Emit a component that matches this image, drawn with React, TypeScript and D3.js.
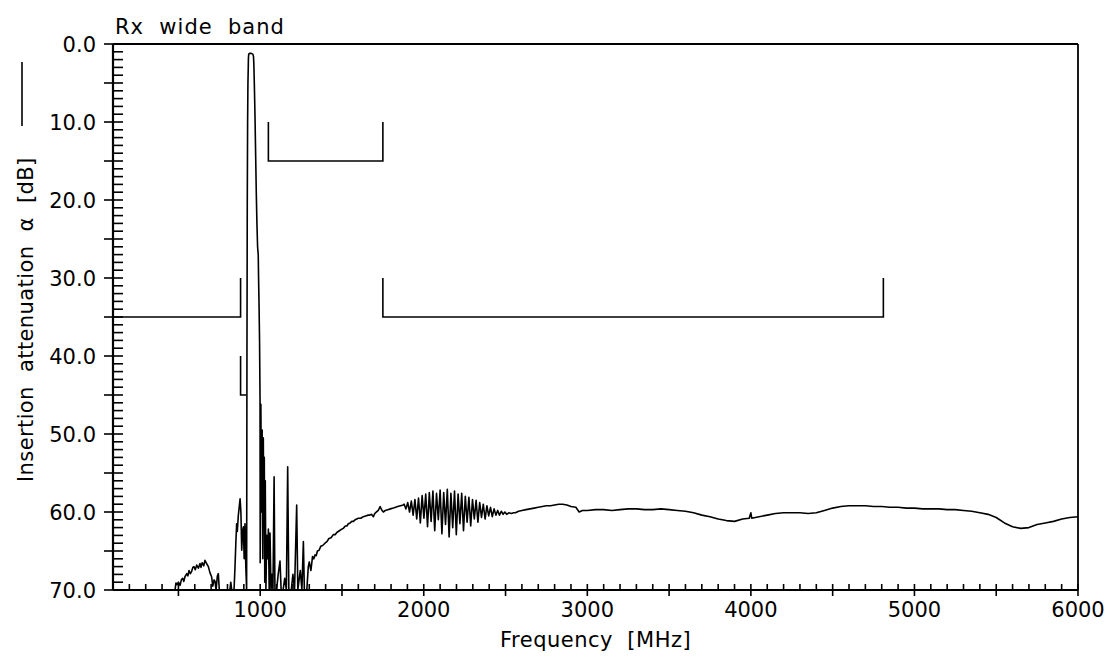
import React from 'react';
import * as d3 from 'd3';

const W = 1112;
const H = 657;
const PLOT = { left: 113, top: 44, right: 1078, bottom: 590 };

const xDomain: [number, number] = [100, 6000];
const yDomain: [number, number] = [0, 70];
const xTickLabels = [1000, 2000, 3000, 4000, 5000, 6000];
const yTickLabels = [0, 10, 20, 30, 40, 50, 60, 70];

const titleText = 'Rx  wide  band';
const xTitle = 'Frequency  [MHz]';
const yTitle = 'Insertion  attenuation  \u03B1  [dB]';

// Tolerance mask segments [MHz, dB]
const maskLow: [number, number][] = [[100, 35], [880, 35], [880, 30]];
const maskTx: [number, number][] = [[880, 40], [880, 45], [915, 45]];
const maskNear: [number, number][] = [[1050, 10], [1050, 15], [1750, 15], [1750, 10]];
const maskFar: [number, number][] = [[1750, 30], [1750, 35], [4810, 35], [4810, 30]];

// Measured curve [MHz, dB]
const lowBand: [number, number][] = [
  [479, 70], [485, 69.1], [492, 69.3], [500, 69.0], [510, 69.4], [518, 68.7], [526, 68.5],
  [533, 68.9], [540, 68.3], [551, 67.9], [558, 68.2], [565, 67.5], [573, 67.9], [581, 67.6],
  [588, 67.1], [595, 67.0], [603, 67.4], [612, 66.8], [622, 67.2], [632, 66.6], [638, 67.1],
  [645, 66.5], [655, 66.9], [662, 66.2], [672, 66.6], [683, 67.0], [693, 67.8], [703, 68.3],
  [710, 69.5], [718, 68.7], [724, 68.9], [730, 70], [738, 68.2], [744, 67.9], [750, 70],
  [815, 70], [820, 69], [826, 70], [840, 70], [846, 67], [851, 64], [856, 61.5], [860, 62.5],
  [866, 60.5], [871, 59.5], [877, 58.3], [882, 60], [887, 64.9], [892, 62.5], [897, 61.9],
  [902, 66], [907, 61.5], [912, 67], [917, 70],
];

const passBand: [number, number][] = [
  [919, 40], [921, 20], [923, 10], [925, 5], [927, 3], [928, 1.8], [930, 1.3], [935, 1.2],
  [945, 1.2], [955, 1.3], [959, 1.6], [961, 2.5], [964, 5], [968, 9], [972, 14], [976, 19],
  [980, 23], [984, 26], [988, 27], [990, 30], [993, 33.5], [996, 38], [999, 45.6], [1000, 66.5],
];

const spurious: [number, number][] = [
  [1004, 46.2], [1008, 60], [1012, 49.5], [1016, 66], [1019, 50.5], [1022, 62], [1025, 53],
  [1028, 69], [1031, 56], [1035, 70], [1040, 63], [1045, 66], [1050, 62.2], [1055, 70],
  [1060, 62.7], [1066, 70], [1072, 68], [1078, 70], [1085, 55.5], [1090, 70], [1100, 70],
  [1110, 68], [1121, 66.3], [1128, 70], [1140, 70], [1150, 68.5], [1160, 70], [1168, 54.2],
  [1175, 70], [1190, 70], [1200, 68], [1210, 70], [1223, 59.1], [1230, 70], [1245, 67.5],
  [1255, 70], [1264, 63.8], [1270, 70], [1285, 70], [1294, 67],
];

const rising: [number, number][] = [
  [1300, 66.4], [1310, 67.5], [1320, 65.7], [1328, 66.0], [1335, 65.5], [1342, 65.6],
  [1350, 65.0], [1360, 64.9], [1370, 64.4], [1382, 64.3], [1396, 64.0], [1408, 63.8],
  [1420, 63.4], [1433, 63.3], [1447, 62.9], [1458, 62.9], [1470, 62.6], [1484, 62.4],
  [1498, 62.2], [1508, 62.1], [1520, 61.8], [1530, 61.8], [1539, 61.5], [1550, 61.4],
  [1560, 61.2], [1570, 61.2], [1580, 61.0], [1590, 60.9], [1600, 60.8], [1615, 60.8],
  [1630, 60.6], [1645, 60.5], [1660, 60.4], [1670, 60.4], [1680, 60.3], [1692, 60.6],
  [1700, 60.2], [1710, 60.0], [1722, 59.8], [1733, 59.3], [1740, 59.6], [1745, 59.8],
  [1753, 60.0], [1765, 59.8], [1780, 59.7], [1796, 59.6], [1814, 59.5], [1828, 59.4],
  [1840, 59.3], [1858, 59.2], [1875, 59.1],
];

const ripple: [number, number][] = [
  [1880, 59.0], [1891, 59.6], [1902, 58.8], [1913, 60.0], [1924, 58.6], [1935, 60.4],
  [1946, 58.4], [1957, 60.9], [1968, 58.2], [1979, 61.4], [1990, 57.9], [2001, 60.8],
  [2012, 57.7], [2023, 61.9], [2034, 57.5], [2045, 61.2], [2056, 57.3], [2067, 62.4],
  [2078, 57.6], [2089, 61.0], [2100, 57.2], [2111, 62.8], [2122, 57.5], [2133, 61.6],
  [2144, 57.1], [2155, 63.2], [2166, 57.6], [2177, 62.0], [2188, 57.3], [2199, 62.9],
  [2210, 57.7], [2221, 61.5], [2232, 57.6], [2243, 62.4], [2254, 58.0], [2265, 61.3],
  [2276, 58.1], [2287, 61.8], [2298, 58.4], [2309, 60.9], [2320, 58.5], [2331, 61.3],
  [2342, 58.8], [2353, 60.7], [2364, 59.0], [2375, 60.9], [2386, 59.2], [2397, 60.5],
  [2408, 59.4], [2419, 60.6], [2430, 59.6], [2441, 60.4], [2452, 59.8], [2463, 60.4],
  [2474, 59.9], [2485, 60.3], [2496, 60.0], [2507, 60.3], [2520, 60.1], [2535, 60.2],
  [2550, 60.1],
];

const upperBand: [number, number][] = [
  [2560, 60.1], [2580, 59.9], [2600, 59.8], [2625, 59.7], [2650, 59.6], [2675, 59.5],
  [2700, 59.4], [2725, 59.3], [2750, 59.2], [2775, 59.2], [2800, 59.1], [2825, 59.0],
  [2850, 59.0], [2875, 59.1], [2900, 59.3], [2930, 59.4], [2950, 60.0], [2970, 59.8],
  [3000, 59.8], [3050, 59.7], [3100, 59.7], [3150, 59.8], [3200, 59.7], [3250, 59.6],
  [3300, 59.6], [3350, 59.7], [3400, 59.7], [3450, 59.6], [3500, 59.7], [3550, 59.8],
  [3600, 59.9], [3650, 60.1], [3700, 60.4], [3750, 60.6], [3800, 60.9], [3850, 61.1],
  [3900, 61.2], [3950, 60.9], [3990, 60.8], [4000, 60.1], [4005, 60.8], [4050, 60.6],
  [4100, 60.4], [4150, 60.2], [4200, 60.1], [4250, 60.1], [4300, 60.1], [4350, 60.2],
  [4400, 60.1], [4450, 59.8], [4500, 59.5], [4550, 59.3], [4600, 59.2], [4650, 59.2],
  [4700, 59.2], [4750, 59.3], [4800, 59.3], [4850, 59.4], [4900, 59.4], [4950, 59.5],
  [5000, 59.5], [5050, 59.6], [5100, 59.6], [5150, 59.6], [5200, 59.7], [5250, 59.7],
  [5300, 59.8], [5350, 59.9], [5400, 60.1], [5450, 60.3], [5500, 60.7], [5550, 61.4],
  [5600, 61.9], [5650, 62.1], [5700, 62.0], [5750, 61.6], [5800, 61.4], [5850, 61.2],
  [5900, 60.9], [5950, 60.7], [6000, 60.6],
];

const FONT = '"DejaVu Sans", Verdana, sans-serif';

export default function App() {
  const x = d3.scaleLinear().domain(xDomain).range([PLOT.left, PLOT.right]);
  const y = d3.scaleLinear().domain(yDomain).range([PLOT.top, PLOT.bottom]);
  const line = d3.line<[number, number]>().x(d => x(d[0])).y(d => y(d[1]));

  const curve = [...lowBand, ...passBand, ...spurious, ...rising, ...ripple, ...upperBand];
  const masks = [maskLow, maskTx, maskNear, maskFar];

  const xMinor = d3.range(100, 6001, 100);
  const yMinor = d3.range(0, 71, 1);

  return (
    <svg width={W} height={H} style={{ position: 'absolute', left: 0, top: 0, display: 'block' }}
      xmlns="http://www.w3.org/2000/svg">
      <rect x={0} y={0} width={W} height={H} fill="#fff" />
      <defs>
        <clipPath id="plotClip">
          <rect x={PLOT.left} y={PLOT.top} width={PLOT.right - PLOT.left} height={PLOT.bottom - PLOT.top + 1} />
        </clipPath>
      </defs>

      {/* title */}
      <text x={115} y={34} fontFamily={FONT} fontSize={21} letterSpacing={1} fill="#000"
        style={{ whiteSpace: 'pre' }}>{titleText}</text>

      {/* frame */}
      <line x1={PLOT.left} y1={PLOT.top} x2={PLOT.right} y2={PLOT.top} stroke="#000" strokeWidth={1.8} />
      <line x1={PLOT.right} y1={PLOT.top} x2={PLOT.right} y2={PLOT.bottom} stroke="#000" strokeWidth={1.8} />
      <line x1={PLOT.left} y1={PLOT.top} x2={PLOT.left} y2={PLOT.bottom} stroke="#000" strokeWidth={2.2} />
      <line x1={PLOT.left} y1={PLOT.bottom} x2={PLOT.right} y2={PLOT.bottom} stroke="#000" strokeWidth={2.2} />

      {/* y ticks */}
      {yMinor.map(v => {
        const major = v % 5 === 0;
        return (
          <line key={'yt' + v} x1={major ? PLOT.left - 9 : PLOT.left} x2={PLOT.left + 10}
            y1={y(v)} y2={y(v)} stroke="#000" strokeWidth={1.6} />
        );
      })}
      {yTickLabels.map(v => (
        <text key={'yl' + v} x={96} y={y(v) + 7.5} textAnchor="end" fontFamily={FONT} fontSize={21} fill="#000">
          {v.toFixed(1)}
        </text>
      ))}

      {/* x ticks */}
      {xMinor.map(v => {
        const major = v % 500 === 0;
        return (
          <line key={'xt' + v} x1={x(v)} x2={x(v)} y1={PLOT.bottom - 6} y2={major ? PLOT.bottom + 6 : PLOT.bottom}
            stroke="#000" strokeWidth={1.6} />
        );
      })}
      {xTickLabels.map(v => (
        <text key={'xl' + v} x={x(v)} y={617} textAnchor="middle" fontFamily={FONT} fontSize={21} fill="#000">
          {String(v)}
        </text>
      ))}

      {/* axis titles */}
      <text x={500} y={647} fontFamily={FONT} fontSize={21} letterSpacing={0.5} fill="#000"
        style={{ whiteSpace: 'pre' }}>{xTitle}</text>
      <text transform="translate(33,482) rotate(-90)" fontFamily={FONT} fontSize={21} letterSpacing={0.4}
        fill="#000" style={{ whiteSpace: 'pre' }}>{yTitle}</text>
      <line x1={22} x2={22} y1={62} y2={126} stroke="#000" strokeWidth={1.6} />

      {/* masks */}
      {masks.map((m, i) => (
        <path key={'m' + i} d={line(m) || ''} fill="none" stroke="#000" strokeWidth={1.6} />
      ))}

      {/* measured curve */}
      <g clipPath="url(#plotClip)">
        <path d={line(curve) || ''} fill="none" stroke="#000" strokeWidth={1.6} strokeLinejoin="round" />
      </g>
    </svg>
  );
}
